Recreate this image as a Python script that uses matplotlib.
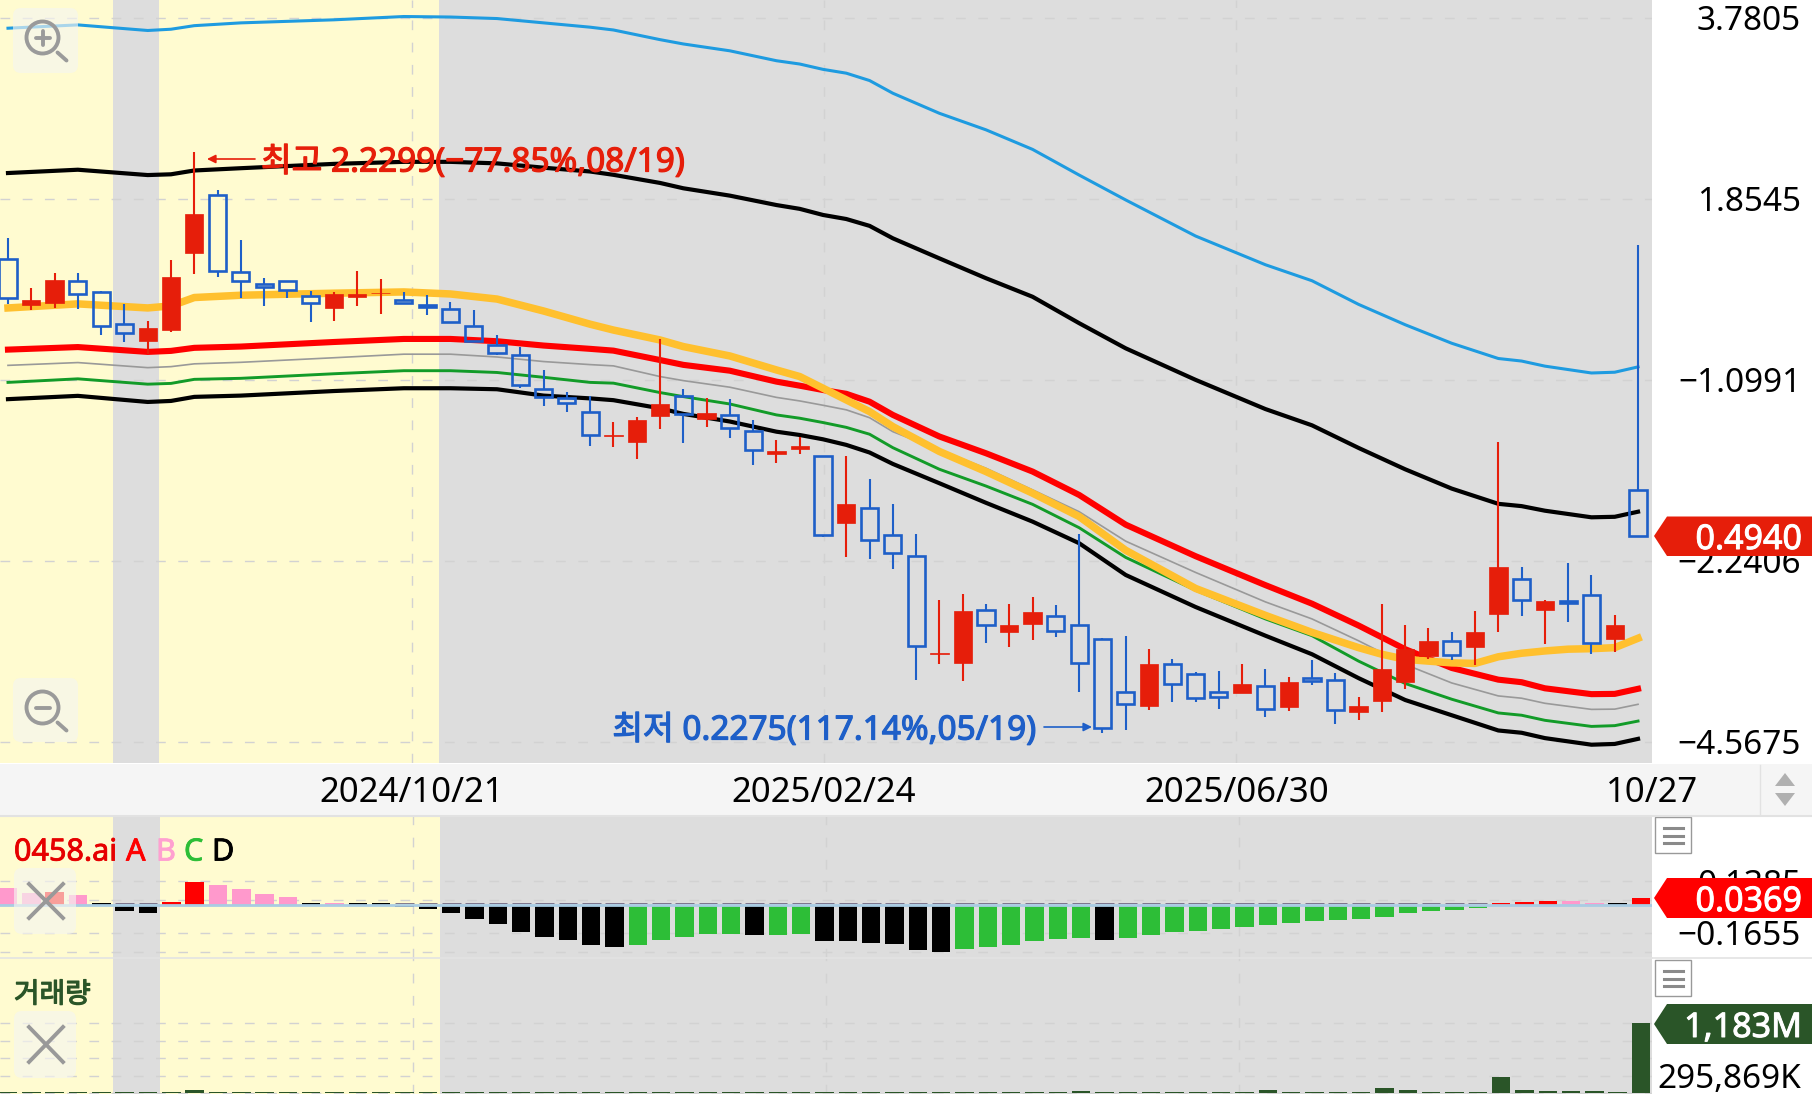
import numpy as np
import matplotlib
matplotlib.use("Agg")
import matplotlib.pyplot as plt
import matplotlib.patheffects as pe
from matplotlib.patches import Circle, FancyBboxPatch, Polygon, Rectangle
from matplotlib.ticker import NullLocator

plt.rcParams['font.family'] = ['Noto Sans', 'Noto Sans CJK KR', 'DejaVu Sans']

# candle values are 100*ln(price), the chart has a log price axis
log_high = [46.2,26.7,32.7,32.7,25.6,20.4,13.6,37.6,80.1,65.1,
            45.6,30.5,29.6,25.4,25.2,33.4,30.0,25.2,23.7,21.0,
            17.8,8.3,3.6,-5.6,-14.4,-15.7,-25.9,-24.2,6.6,-13.2,
            -16.7,-17.1,-25.4,-33.3,-32.1,-39.3,-39.4,-48.4,-58.5,-70.0,
            -96.3,-93.8,-97.6,-97.6,-94.9,-98.1,-70.0,-111.2,-110.2,-115.3,
            -119.3,-124.6,-123.9,-121.4,-123.3,-126.5,-119.9,-124.7,-134.2,-97.7,
            -106.0,-107.2,-108.8,-100.6,-34.1,-83.2,-96.1,-81.7,-86.5,-102.1,43.6]
log_top = [38.0,22.0,29.7,29.6,25.0,12.5,10.9,30.9,55.8,63.3,
           33.1,28.1,29.4,23.4,24.3,24.3,24.8,22.0,20.1,18.4,
           11.6,4.1,0.3,-13.1,-16.8,-22.0,-31.4,-25.4,-19.1,-15.8,
           -22.4,-23.2,-29.6,-37.6,-35.4,-39.4,-58.5,-59.9,-70.5,-78.8,
           -117.0,-100.6,-100.2,-105.8,-100.8,-102.4,-105.8,-111.5,-132.2,-121.4,
           -121.5,-125.4,-132.4,-129.4,-130.1,-128.6,-126.7,-127.8,-138.0,-123.5,
           -115.5,-112.1,-112.1,-108.6,-83.3,-88.0,-96.6,-96.5,-94.1,-106.0,-53.0]
log_bottom = [22.6,19.9,20.6,24.2,11.5,8.8,5.7,10.1,40.6,33.2,
              29.4,27.1,25.8,20.9,18.9,23.3,24.6,20.8,19.3,13.3,
              5.9,1.1,-11.6,-16.1,-18.5,-31.3,-31.7,-33.8,-23.8,-22.9,
              -25.0,-28.6,-37.3,-38.8,-36.9,-70.5,-65.8,-72.6,-77.6,-114.2,
              -117.4,-121.1,-106.0,-108.7,-105.4,-108.3,-120.8,-146.6,-137.0,-137.8,
              -129.3,-134.7,-134.4,-132.6,-139.1,-138.2,-128.2,-139.6,-140.4,-135.8,
              -128.6,-118.2,-117.7,-114.6,-101.7,-96.2,-100.2,-97.3,-113.2,-111.6,-70.8]
log_low = [20.2,18.0,18.9,18.5,8.0,5.2,0.7,9.4,32.2,31.1,
           22.7,19.5,22.7,13.4,13.7,19.7,16.4,20.3,16.1,13.2,
           5.2,0.2,-12.6,-19.6,-22.1,-35.5,-35.9,-40.5,-28.8,-34.5,
           -27.9,-32.5,-43.1,-42.1,-38.5,-71.3,-79.3,-80.0,-83.8,-127.5,
           -121.2,-128.0,-112.9,-114.7,-111.7,-110.9,-132.2,-148.3,-147.3,-139.4,
           -136.4,-136.4,-139.0,-132.6,-142.2,-139.8,-129.5,-145.1,-143.2,-140.4,
           -131.1,-119.5,-119.8,-121.7,-108.6,-102.4,-113.5,-105.0,-117.3,-116.5,-71.0]
up_weeks = [1,2,6,7,8,14,15,16,26,27,28,30,33,34,36,40,41,43,44,49,53,55,58,59,60,61,63,64,66,69]

# band lines, read at these weeks
band_weeks = [0,3,6,7,8,10,14,17,19,21,23,25,26,28,29,31,33,34,35,36,37,38,40,42,44,46,48,51,54,56,58,60,62,64,65,66,68,69,70]
band_blue = [128.9,130.2,128.0,128.5,129.9,131.0,132.2,133.5,133.3,132.7,131.0,129.3,128.2,124.4,122.7,120.0,116.1,114.8,112.7,111.2,108.3,103.3,95.4,88.9,81.2,71.1,61.3,47.1,35.8,29.5,20.2,12.2,4.9,-1.1,-2.1,-4.1,-6.8,-6.5,-4.4]
band_upper = [71.9,73.2,71.1,71.4,72.9,73.8,75.5,76.3,76.3,75.7,74.0,72.5,71.2,68.0,65.9,63.0,59.3,57.8,55.4,53.8,51.1,46.2,38.3,30.5,23.2,12.8,2.9,-9.5,-21.0,-27.4,-36.3,-44.7,-52.3,-58.3,-59.2,-61.0,-63.6,-63.4,-61.4]
band_red = [2.4,3.4,1.5,1.9,3.1,3.6,5.4,6.6,6.6,5.7,4.0,2.7,2.0,-1.7,-3.6,-5.9,-10.2,-11.8,-13.5,-15.0,-18.1,-23.3,-31.8,-38.4,-45.6,-54.8,-66.5,-78.9,-90.3,-97.6,-106.2,-115.5,-122.9,-127.5,-128.5,-130.9,-133.2,-133.1,-131.1]
band_grey = [-3.8,-2.7,-4.7,-4.3,-3.2,-2.6,-0.8,0.6,0.6,-0.5,-2.3,-3.5,-4.0,-8.2,-9.8,-12.4,-16.4,-17.8,-19.5,-21.3,-24.4,-29.9,-37.1,-44.3,-52.8,-61.4,-73.0,-85.3,-96.9,-103.6,-112.2,-121.5,-128.8,-133.9,-134.8,-136.8,-139.2,-139.1,-137.2]
band_green = [-10.5,-9.1,-11.2,-10.9,-9.3,-8.9,-7.1,-5.9,-5.9,-6.6,-8.5,-10.5,-10.8,-14.5,-16.1,-19.0,-23.3,-24.6,-26.3,-28.2,-30.9,-36.2,-44.7,-51.3,-58.5,-67.7,-79.4,-92.3,-103.6,-110.2,-120.2,-129.0,-135.2,-140.6,-141.5,-143.5,-145.9,-145.6,-143.8]
band_lower = [-17.1,-15.8,-18.2,-17.8,-16.2,-15.7,-13.9,-12.8,-12.8,-13.2,-15.7,-16.8,-17.5,-20.7,-22.9,-25.9,-29.9,-31.2,-32.9,-35.1,-38.1,-42.6,-50.2,-57.9,-65.3,-73.8,-86.3,-98.9,-110.2,-117.5,-126.9,-135.5,-141.5,-147.5,-148.4,-150.5,-153.1,-152.8,-150.8]

orange_weeks = [0,3,6,7,8,10,14,17,19,21,23,25,26,28,29,31,33,34,35,36,37,38,40,42,44,46,48,51,54,56,58,59,60,62,63,64,65,66,67,68,69,70]
orange_line = [18.8,20.4,18.8,19.6,22.9,23.8,24.6,25.1,24.3,22.3,17.6,12.4,10.1,6.2,3.6,-0.1,-5.6,-8.2,-12.8,-17.4,-22.0,-27.9,-37.7,-45.6,-54.1,-63.3,-76.6,-91.6,-102.2,-108.9,-114.9,-117.5,-119.5,-120.9,-121.1,-118.5,-117.1,-116.2,-115.5,-115.3,-114.9,-111.2]

# 0458.ai oscillator
osc_values = [.0956,.0663,.0741,.0546,.0078,-.0351,-.0488,.0137,.1326,.1151,
              .0897,.0644,.0429,.0078,.0098,.0078,.0078,-.0137,-.0273,-.0507,
              -.0858,-.1151,-.1599,-.1911,-.2087,-.2379,-.2496,-.2340,-.2067,-.1911,
              -.1736,-.1716,-.1794,-.1775,-.1697,-.2106,-.2126,-.2262,-.2321,-.2633,
              -.2769,-.2613,-.2496,-.2340,-.2126,-.2009,-.1950,-.2048,-.1970,-.1755,
              -.1619,-.1541,-.1424,-.1287,-.1209,-.1073,-.0956,-.0917,-.0858,-.0702,
              -.0507,-.0371,-.0312,-.0195,.0117,.0176,.0195,.0195,.0117,.0078,.0369]
osc_kinds = list("BBABDDDAABBBBDB" + "D"*12 + "CCCCCDCC" + "D"*6 + "C"*6 + "D" + "C"*16 + "AAABBDA")

# volume in millions
volume = [30,30,30,30,30,30,30,30,50,30,30,30,30,30,30,30,30,30,30,30,
          30,30,30,30,30,30,30,30,30,30,30,30,30,30,30,30,30,30,30,30,
          30,30,30,30,30,30,40,30,30,30,30,30,30,30,50,30,30,30,30,90,
          50,30,30,30,275,50,40,40,33,30,1183]

grid_prices = [3.7805, 1.8545, 0.9097, 0.4463, 0.2189]
grid_labels = ['3.7805', '1.8545', '\u22121.0991', '\u22122.2406', '\u22124.5675']
date_weeks = [17.35, 35.05, 52.75, 70.6]
date_labels = ['2024/10/21', '2025/02/24', '2025/06/30', '10/27']
shade_edges = [4.5, 6.5, 18.5]

C_UP = '#E61E0A'
C_DOWN = '#1E5FC8'
C_YELLOW = '#FFFBD0'
C_GREY = '#DDDDDD'
C_GRID = '#D2D2D2'
C_VOL = '#2A5528'
OSC_COLORS = {'A': '#FF0000', 'B': '#FF99CC', 'C': '#2DBE37', 'D': '#000000'}

W, H = 1812, 1094
XLIM = (-0.343, 70.47)
PANEL_W = 1652


def add_panel(top, bottom):
    ax = fig.add_axes([0, 1 - bottom / H, PANEL_W / W, (bottom - top) / H])
    ax.set_xlim(*XLIM)
    for s in ax.spines.values():
        s.set_visible(False)
    ax.set_facecolor(C_GREY)
    ax.axvspan(XLIM[0], shade_edges[0], color=C_YELLOW, lw=0, zorder=0)
    ax.axvspan(shade_edges[1], shade_edges[2], color=C_YELLOW, lw=0, zorder=0)
    for d in date_weeks[:3]:
        ax.axvline(d, color=C_GRID, lw=1, ls=(0, (7, 9)), zorder=1)
    ax.tick_params(length=0)
    ax.yaxis.tick_right()
    ax.set_xticks([])
    return ax


def y_labels(ax, ticks, labels):
    ax.set_yticks(ticks)
    ax.set_yticklabels(labels, fontsize=24, ha='right')
    ax.tick_params(axis='y', pad=(1801 - PANEL_W) * 0.72)
    ax.yaxis.set_minor_locator(NullLocator())
    for t in ticks:
        ax.axhline(t, color=C_GRID, lw=1, ls=(0, (7, 9)), zorder=1)


def price(v):
    return np.exp(np.array(v) / 100)


def heavy(color, width=0.9):
    # the latin font has one weight only, so thicken the strokes
    return [pe.withStroke(linewidth=width, foreground=color)]


fig = plt.figure(figsize=(W / 100, H / 100), dpi=100, facecolor='white')

# price panel
ax = add_panel(0, 763)
ax.set_yscale('log')
ax.set_ylim(np.exp(-1.603), np.exp(1.40))
y_labels(ax, grid_prices, grid_labels)
ax.plot(band_weeks, price(band_blue), color='#1E9BE0', lw=2.2, zorder=2)
ax.plot(band_weeks, price(band_upper), color='black', lw=3.0, zorder=2)
ax.plot(band_weeks, price(band_grey), color='#999999', lw=1.2, zorder=2)
ax.plot(band_weeks, price(band_green), color='#129B28', lw=2.1, zorder=2)
ax.plot(band_weeks, price(band_lower), color='black', lw=3.0, zorder=2)
ax.plot(band_weeks, price(band_red), color='#FF0000', lw=4.4, zorder=3)
ax.plot(orange_weeks, price(orange_line), color='#FFC02E', lw=5.4, zorder=3)

for i in range(len(log_high)):
    hi, top, bot, lo = price([log_high[i], log_top[i], log_bottom[i], log_low[i]])
    if i in up_weeks:
        ax.vlines(i, lo, hi, color=C_UP, lw=1.5, zorder=4)
        ax.bar(i, top - bot, bottom=bot, width=0.79, color=C_UP, lw=0.5, edgecolor=C_UP, zorder=5)
    else:
        ax.vlines(i, top, hi, color=C_DOWN, lw=1.5, zorder=4)
        ax.vlines(i, lo, bot, color=C_DOWN, lw=1.5, zorder=4)
        ax.bar(i, top - bot, bottom=bot, width=0.74, fill=False, edgecolor=C_DOWN, lw=1.9, zorder=5)

ax.set_xticks(date_weeks)
ax.set_xticklabels(date_labels, fontsize=25)
ax.tick_params(axis='x', pad=9)

# oscillator panel
ax2 = add_panel(816, 958)
ax2.set_ylim(-53.3 * .00585, 88.7 * .00585)
y_labels(ax2, [0.1385, 0.0281, -0.1655, -0.2763], ['0.1385', '', '\u22120.1655', ''])
ax2.bar(range(len(osc_values)), osc_values, width=0.79,
        color=[OSC_COLORS[k] for k in osc_kinds], zorder=3)
neg = [i for i, v in enumerate(osc_values) if v < 0]
ax2.hlines([.0085] * len(neg), np.array(neg) - 0.4, np.array(neg) + 0.4, color='#6C6480', lw=0.6, zorder=3)
ax2.axhline(0, color='#A9CCE3', lw=2.0, zorder=4)

# volume panel
ax3 = add_panel(958, 1094)
ax3.set_ylim(-12, 136.7 * 16.74)
y_labels(ax3, [1183, 887, 592, 295.869, 0], ['', '', '', '295,869K', ''])
ax3.bar(range(len(volume)), volume, width=0.79, color=C_VOL, zorder=3)

# screen furniture, in pixels
ui = fig.add_axes([0, 0, 1, 1], zorder=10)
ui.set_xlim(0, W)
ui.set_ylim(H, 0)
ui.axis('off')

# the date strip sits under the tick labels of the price panel
strip = fig.add_axes([0, 1 - 815 / H, 1, 51 / H], zorder=-1)
strip.set_facecolor('#F5F5F5')
strip.set_xticks([])
strip.set_yticks([])
for s in strip.spines.values():
    s.set_visible(False)
ui.plot([0, W], [815.5, 815.5], color='#E2E2E2', lw=1.5)
ui.plot([0, PANEL_W], [958, 958], color='#E3E3E3', lw=1.2)
ui.plot([PANEL_W, W], [958, 958], color='#E3E3E3', lw=1.2)
ui.plot([1760, 1760], [765, 815], color='#E2E2E2', lw=1)
ui.add_patch(Polygon([[1775, 786], [1795, 786], [1785, 773]], color='#B0B0B0', lw=0))
ui.add_patch(Polygon([[1775, 793], [1795, 793], [1785, 806]], color='#B0B0B0', lw=0))


def tag(top, bottom, tip_y, color, text):
    ui.add_patch(Polygon([[1654, tip_y], [1667, top], [W, top], [W, bottom], [1667, bottom]], color=color, lw=0))
    ui.text(1802, tip_y, text, color='white', fontsize=24.5, ha='right', va='center_baseline',
            path_effects=heavy('white', 0.7))


tag(516.5, 556, 536, C_UP, '0.4940')
tag(878, 918, 898, '#FF0000', '0.0369')
tag(1004, 1044, 1024, C_VOL, '1,183M')


def menu_box(top):
    ui.add_patch(Rectangle((1655, top), 36, 36, fc='white', ec='#999999', lw=1))
    for dy in (11, 19, 26):
        ui.plot([1664, 1683], [top + dy, top + dy], color='#8A8A8A', lw=2.2)


menu_box(817)
menu_box(960)


def soft_box(x0, y0, x1, y1):
    ui.add_patch(FancyBboxPatch((x0 + 8, y0 + 8), x1 - x0 - 16, y1 - y0 - 16, boxstyle='round,pad=8',
                                fc='#F5F5F0', ec='none', alpha=0.65))


def magnifier(cx, cy, plus):
    ui.add_patch(Circle((cx, cy), 16, fc='none', ec='#9A9A9A', lw=2.8))
    ui.plot([cx + 15, cx + 24], [cy + 15, cy + 23], color='#9A9A9A', lw=2.8, solid_capstyle='round')
    ui.plot([cx - 7, cx + 7], [cy, cy], color='#9A9A9A', lw=2.8, solid_capstyle='round')
    if plus:
        ui.plot([cx, cx], [cy - 7, cy + 7], color='#9A9A9A', lw=2.8, solid_capstyle='round')


soft_box(13, 8, 78, 73)
magnifier(42.5, 37.5, True)
soft_box(13, 678, 78, 742)
magnifier(42.5, 707.5, False)


def close_mark(y0, y1):
    soft_box(14, y0 - 16, 76, y1 + 16)
    ui.plot([29, 63], [y0, y1], color='#999999', lw=2.8)
    ui.plot([29, 63], [y1, y0], color='#999999', lw=2.8)


close_mark(884, 918)
close_mark(1027, 1062)

# panel titles
for x, s, c in [(14, '0458.ai', '#E60000'), (126, 'A', '#FF0000'), (156, 'B', '#FFA0D0'),
                (184, 'C', '#2DBE37'), (212, 'D', '#000000')]:
    ui.text(x, 849, s, color=c, fontsize=22, ha='left', va='center_baseline', path_effects=heavy(c, 0.6))
ui.text(14, 992, '거래량', color=C_VOL, fontsize=20, ha='left', va='center_baseline', path_effects=heavy(C_VOL, 0.9))

# high and low callouts
ui.text(261, 159, '최고 2.2299(\u221277.85%,08/19)', color=C_UP, fontsize=24, ha='left',
        va='center_baseline', path_effects=heavy(C_UP))
ui.annotate('', xy=(207, 159), xytext=(255, 159),
            arrowprops=dict(arrowstyle='-|>,head_width=0.25,head_length=0.5', color=C_UP, lw=1.2, shrinkA=0, shrinkB=0))
ui.text(1036, 727, '최저 0.2275(117.14%,05/19)', color=C_DOWN, fontsize=24, ha='right',
        va='center_baseline', path_effects=heavy(C_DOWN))
ui.annotate('', xy=(1092, 727), xytext=(1044, 727),
            arrowprops=dict(arrowstyle='-|>,head_width=0.25,head_length=0.5', color=C_DOWN, lw=1.2, shrinkA=0, shrinkB=0))

fig.savefig('out.png', dpi=100)
